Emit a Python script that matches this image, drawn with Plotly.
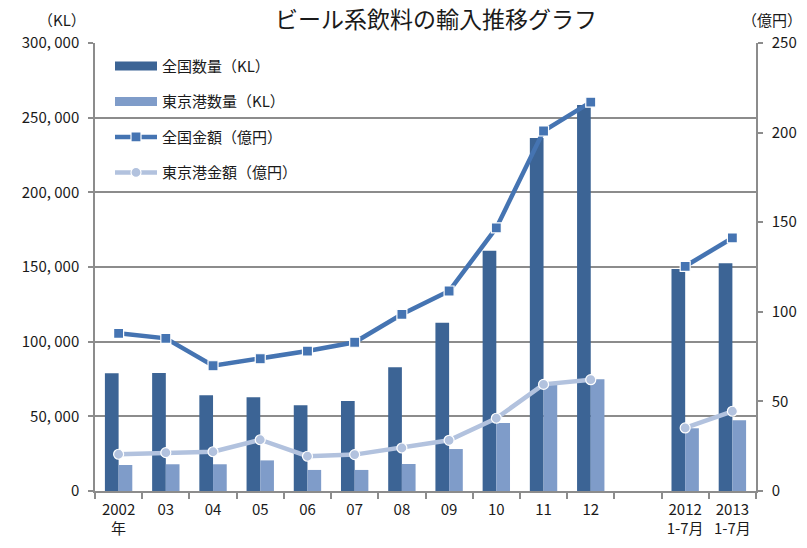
import plotly.graph_objects as go

categories = ["2002<br>年", "03", "04", "05", "06", "07", "08", "09", "10", "11", "12", " ",
              "2012<br>1-7月", "2013<br>1-7月"]
zenkoku_qty = [78800, 79000, 64100, 62700, 57400, 60300, 82800, 112700, 160900, 236400, 258500, None,
               148700, 152500]
tokyo_qty = [17400, 17900, 17900, 20500, 14100, 14100, 18100, 28100, 45500, 71400, 74800, None,
             42000, 47300]
zenkoku_amt = [88.0, 85.2, 69.9, 73.8, 78.1, 83.0, 98.6, 111.6, 146.8, 200.9, 217.0, None, 125.4, 141.2]
tokyo_amt = [20.5, 21.4, 21.9, 28.6, 19.4, 20.3, 24.0, 28.3, 40.6, 59.5, 62.1, None, 35.2, 44.5]

left_ticks = [0, 50000, 100000, 150000, 200000, 250000, 300000]
left_ticktext = ["0", "50, 000", "100, 000", "150, 000", "200, 000", "250, 000", "300, 000"]
right_ticks = [0, 50, 100, 150, 200, 250]

names = ["全国数量（KL）", "東京港数量（KL）", "全国金額（億円）", "東京港金額（億円）"]

C_DARK = "#3c6495"
C_LIGHT = "#7f9cc9"
C_LINE1 = "#4574b2"
C_LINE2 = "#b2c2de"
FONT = "Noto Sans CJK JP"
TXT = "#1a1a1a"
GRID = "#8c8c8c"

fig = go.Figure()
fig.add_trace(go.Bar(x=categories, y=zenkoku_qty, marker=dict(color=C_DARK, line=dict(width=0)),
                     showlegend=False, name=names[0]))
fig.add_trace(go.Bar(x=categories, y=tokyo_qty, marker=dict(color=C_LIGHT, line=dict(width=0)),
                     showlegend=False, name=names[1]))
fig.add_trace(go.Scatter(x=categories, y=zenkoku_amt, yaxis="y2", mode="lines+markers",
                         line=dict(color=C_LINE1, width=4.5), connectgaps=False,
                         marker=dict(symbol="square", size=10, color=C_LINE1, line=dict(color="white", width=1.2)),
                         showlegend=False, name=names[2]))
fig.add_trace(go.Scatter(x=categories, y=tokyo_amt, yaxis="y2", mode="lines+markers",
                         line=dict(color=C_LINE2, width=4.5), connectgaps=False,
                         marker=dict(symbol="circle", size=10, color=C_LINE2, line=dict(color="white", width=1.2)),
                         showlegend=False, name=names[3]))

# legend entries (no data drawn)
fig.add_trace(go.Scatter(x=[categories[11]], y=[None], mode="lines", line=dict(color=C_DARK, width=9),
                         name=names[0], legendgroup="a"))
fig.add_trace(go.Scatter(x=[categories[11]], y=[None], mode="lines", line=dict(color=C_LIGHT, width=9),
                         name=names[1], legendgroup="b"))
fig.add_trace(go.Scatter(x=[categories[11]], y=[None], mode="lines+markers", line=dict(color=C_LINE1, width=4.5),
                         marker=dict(symbol="square", size=10, color=C_LINE1, line=dict(color="white", width=1.2)),
                         name=names[2], legendgroup="c"))
fig.add_trace(go.Scatter(x=[categories[11]], y=[None], mode="lines+markers", line=dict(color=C_LINE2, width=4.5),
                         marker=dict(symbol="circle", size=10, color=C_LINE2, line=dict(color="white", width=1.2)),
                         name=names[3], legendgroup="d"))

fig.update_layout(
    width=807, height=548,
    margin=dict(l=95, r=51, t=43, b=57),
    paper_bgcolor="white", plot_bgcolor="white",
    font=dict(family=FONT, size=15, color=TXT),
    barmode="group", bargap=0.42, bargroupgap=0,
    title=dict(text="ビール系飲料の輸入推移グラフ", x=436 / 807, xref="container", xanchor="center",
               y=1 - 20 / 548, yref="container", yanchor="middle",
               font=dict(family=FONT, size=23, color=TXT)),
    xaxis=dict(type="category", categoryorder="array", categoryarray=categories,
               range=[-0.5, len(categories) - 0.5],
               showline=True, linecolor=GRID, linewidth=1.5, mirror=False, automargin=False,
               ticks="outside", tickson="boundaries", ticklen=6, tickcolor=GRID, tickwidth=1.5,
               tickangle=0, showgrid=False, tickfont=dict(size=15, color=TXT), ticklabelstandoff=4),
    yaxis=dict(range=[0, 300000], tickvals=left_ticks, ticktext=left_ticktext, automargin=False,
               showline=True, linecolor=GRID, linewidth=1.5,
               ticks="outside", ticklen=5, tickcolor=GRID, tickwidth=1.5,
               showgrid=True, gridcolor=GRID, gridwidth=1.5, zeroline=False,
               tickfont=dict(size=15, color=TXT), ticklabelstandoff=6),
    yaxis2=dict(range=[0, 250], tickvals=right_ticks, overlaying="y", side="right", automargin=False,
                showline=True, linecolor=GRID, linewidth=1.5,
                ticks="outside", ticklen=5, tickcolor=GRID, tickwidth=1.5,
                showgrid=False, zeroline=False, tickfont=dict(size=15, color=TXT), ticklabelstandoff=6),
    legend=dict(x=(110 - 95) / 661, y=0.985, xanchor="left", yanchor="top", bgcolor="rgba(0,0,0,0)",
                traceorder="grouped", tracegroupgap=13, itemwidth=42,
                font=dict(family=FONT, size=15, color=TXT)),
    annotations=[
        dict(text="（KL）", xref="paper", yref="paper", x=(88 - 95) / 661, y=(491 - 20) / 448,
             xanchor="right", yanchor="middle", showarrow=False, font=dict(size=15, color=TXT)),
        dict(text="（億円）", xref="paper", yref="paper", x=(804 - 95) / 661, y=(491 - 20) / 448,
             xanchor="right", yanchor="middle", showarrow=False, font=dict(size=15, color=TXT)),
    ],
)

fig.write_html("out.html")
